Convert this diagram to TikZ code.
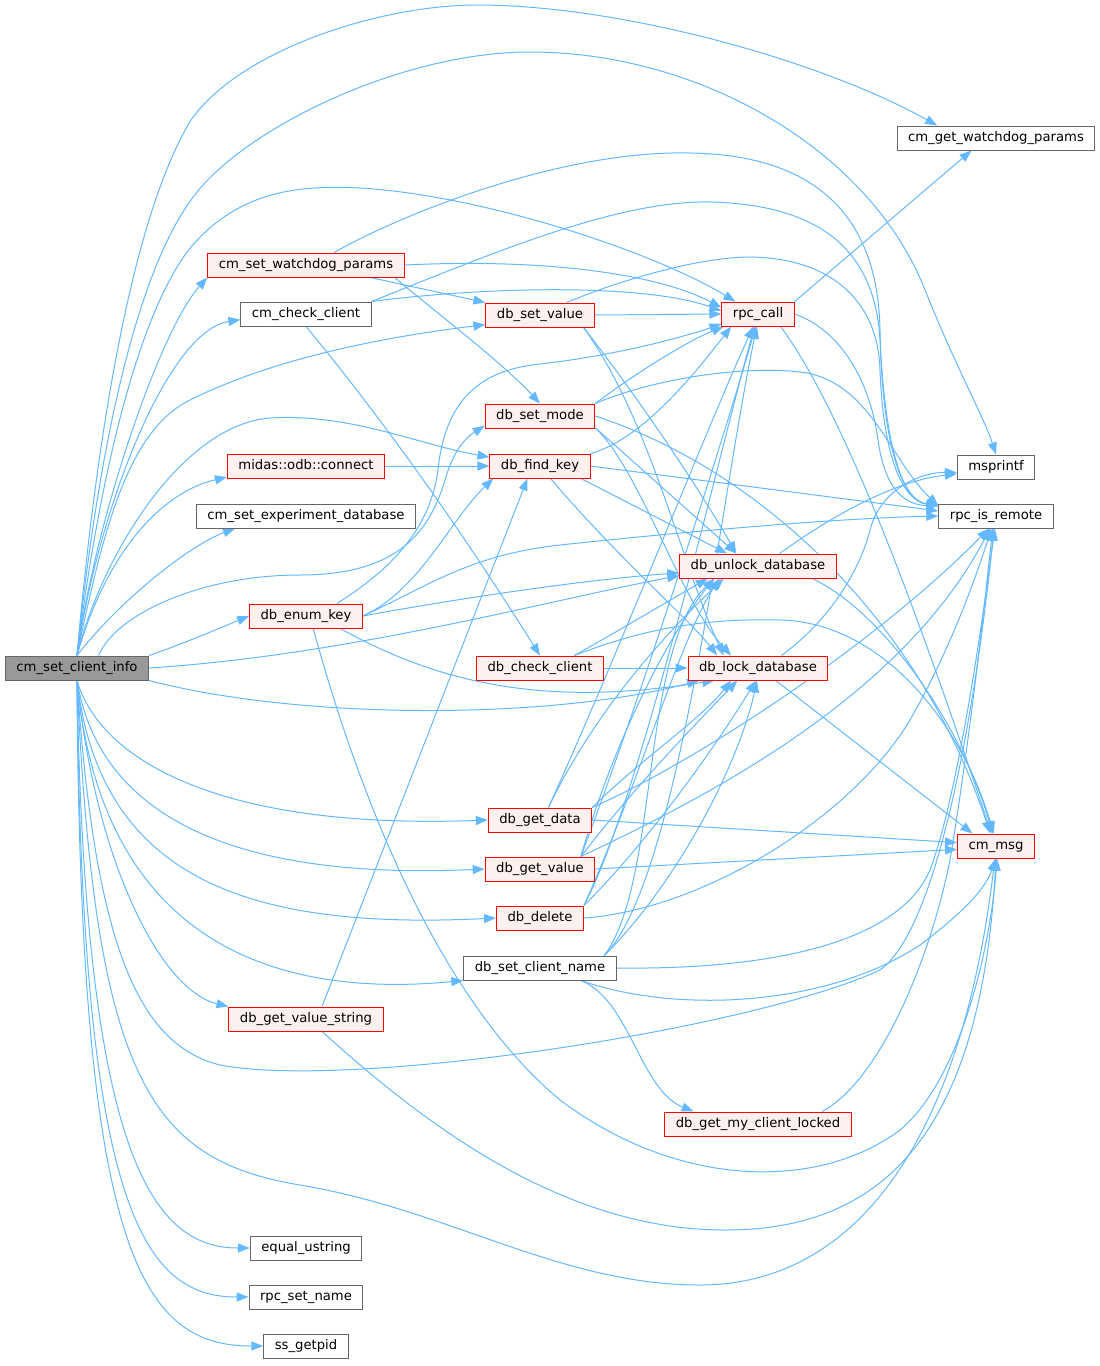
\documentclass[tikz,border=0pt]{standalone}
\usepackage{fontspec}
\setmainfont{DejaVu Sans}
\usetikzlibrary{arrows.meta, backgrounds}
\definecolor{callblue}{RGB}{99,184,255}
\definecolor{fnred}{RGB}{255,0,0}
\definecolor{fnfill}{RGB}{255,240,240}
\definecolor{fngray}{RGB}{102,102,102}
\definecolor{rootfill}{RGB}{153,153,153}
\tikzset{
  fnbox/.style={draw=fnred, fill=fnfill, line width=1pt, inner xsep=11pt, inner ysep=0pt,
    minimum height=24pt, text height=10pt, text depth=3.2pt, font=\fontsize{13.2}{15}\selectfont},
  leafbox/.style={fnbox, draw=fngray, fill=white},
  rootbox/.style={fnbox, draw=fngray, fill=rootfill},
  call/.style={draw=callblue, line width=1pt, -{Triangle[length=12pt,width=9pt]}}
}

\begin{document}
\begin{tikzpicture}[x=1pt, y=-1pt]
    \useasboundingbox (0,0) rectangle (1100,1366);

    % Functions
    \node[rootbox] (root) at (77,668) {cm\_set\_client\_info};
    \node[leafbox] (getwd) at (996,138) {cm\_get\_watchdog\_params};
    \node[fnbox] (setwd) at (306,265) {cm\_set\_watchdog\_params};
    \node[leafbox] (checkcl) at (306,314) {cm\_check\_client};
    \node[fnbox] (setval) at (540,315) {db\_set\_value};
    \node[fnbox] (rpccall) at (758,314) {rpc\_call};
    \node[fnbox] (setmode) at (540,416) {db\_set\_mode};
    \node[fnbox] (connect) at (306,466) {midas::odb::connect};
    \node[fnbox] (findkey) at (540,466) {db\_find\_key};
    \node[leafbox] (msprintf) at (996,467) {msprintf};
    \node[leafbox] (setexp) at (306,516) {cm\_set\_experiment\_database};
    \node[leafbox] (isremote) at (996,516) {rpc\_is\_remote};
    \node[fnbox] (unlock) at (758,566) {db\_unlock\_database};
    \node[fnbox] (enumkey) at (306,616) {db\_enum\_key};
    \node[fnbox] (dbcheck) at (540,668) {db\_check\_client};
    \node[fnbox] (lock) at (758,668) {db\_lock\_database};
    \node[fnbox] (getdata) at (540,820) {db\_get\_data};
    \node[fnbox] (cmmsg) at (996,846) {cm\_msg};
    \node[fnbox] (getvalue) at (540,869) {db\_get\_value};
    \node[fnbox] (dbdelete) at (540,918) {db\_delete};
    \node[leafbox] (setname) at (540,968) {db\_set\_client\_name};
    \node[fnbox] (getvalstr) at (306,1019) {db\_get\_value\_string};
    \node[fnbox] (getmycl) at (758,1124) {db\_get\_my\_client\_locked};
    \node[leafbox] (equstr) at (306,1248) {equal\_ustring};
    \node[leafbox] (setrpcname) at (306,1297) {rpc\_set\_name};
    \node[leafbox] (getpid) at (306,1346) {ss\_getpid};

    \begin{scope}[on background layer]
    % Calls of cm_set_client_info
    \draw[call] (root.north) .. controls (95,450) and (130,220) .. (191,120) .. controls (240,50) and (380,5) .. (477,5) .. controls (620,5) and (820,60) .. (getwd.168);
    \draw[call] (root.north) .. controls (100,430) and (140,270) .. (191,200) .. controls (240,130) and (400,52) .. (530,52) .. controls (700,52) and (870,150) .. (925,290) .. controls (955,365) and (985,420) .. (msprintf.north);
    \draw[call] (root.north) .. controls (100,470) and (140,310) .. (191,247) .. controls (240,190) and (300,185) .. (360,188) .. controls (480,195) and (650,250) .. (rpccall.151);
    \draw[call] (root.north) .. controls (95,520) and (160,330) .. (setwd.south west);
    \draw[call] (root.north) .. controls (100,500) and (170,330) .. (checkcl.185);
    \draw[call] (root.north) .. controls (105,520) and (130,430) .. (190,400) .. controls (280,355) and (400,335) .. (setval.190);
    \draw[call] (root.north) .. controls (100,560) and (180,425) .. (270,418) .. controls (350,413) and (420,445) .. (findkey.170);
    \draw[call] (root.north) .. controls (110,540) and (170,490) .. (connect.188);
    \draw[call] (root.north) .. controls (120,600) and (190,545) .. (setexp.190);
    \draw[call] (root.30) .. controls (115,615) and (200,575) .. (300,575) .. controls (400,575) and (430,530) .. (445,480) .. controls (455,445) and (470,435) .. (setmode.190);
    \draw[call] (root.north east) .. controls (180,645) and (220,628) .. (enumkey.west);
    \draw[call] (root.east) .. controls (350,655) and (550,600) .. (unlock.187);
    \draw[call] (root.south east) .. controls (300,720) and (550,720) .. (lock.192);
    \draw[call] (root.south) .. controls (100,760) and (220,830) .. (getdata.west);
    \draw[call] (root.south) .. controls (100,820) and (240,880) .. (getvalue.west);
    \draw[call] (root.south) .. controls (100,880) and (250,930) .. (dbdelete.west);
    \draw[call] (root.south) .. controls (100,930) and (260,1000) .. (setname.south west);
    \draw[call] (root.south) .. controls (95,860) and (160,990) .. (getvalstr.north west);
    \draw[call] (root.south) .. controls (95,950) and (140,1045) .. (220,1065) .. controls (350,1090) and (750,1030) .. (880,970) .. controls (950,920) and (985,620) .. (isremote.-100);
    \draw[call] (root.south) .. controls (95,1080) and (150,1160) .. (300,1185) .. controls (450,1210) and (560,1285) .. (700,1285) .. controls (850,1285) and (960,1150) .. (cmmsg.-95);
    \draw[call] (root.south) .. controls (85,1150) and (150,1248) .. (equstr.west);
    \draw[call] (root.south) .. controls (82,1200) and (140,1297) .. (setrpcname.west);
    \draw[call] (root.south) .. controls (80,1250) and (140,1346) .. (getpid.west);

    % cm_set_watchdog_params
    \draw[call] (setwd.east) .. controls (550,258) and (660,275) .. (rpccall.170);
    \draw[call] (setwd.-11) -- (setval.north west);
    \draw[call] (setwd.-8) .. controls (420,300) and (500,360) .. (setmode.north);
    \draw[call] (setwd.24) .. controls (400,215) and (560,150) .. (690,153) .. controls (820,155) and (878,220) .. (880,330) .. controls (882,440) and (900,500) .. (isremote.170);

    % cm_check_client
    \draw[call] (checkcl.north east) .. controls (500,285) and (650,285) .. (rpccall.175);
    \draw[call] (checkcl.north east) .. controls (500,250) and (620,200) .. (711,202) .. controls (820,205) and (875,250) .. (880,340) .. controls (885,440) and (900,500) .. (isremote.170);
    \draw[call] (checkcl.south) .. controls (400,440) and (480,560) .. (dbcheck.north);

    % db_set_value
    \draw[call] (setval.east) -- (rpccall.west);
    \draw[call] (setval.25) .. controls (620,280) and (700,257) .. (750,257) .. controls (830,258) and (878,300) .. (880,370) .. controls (883,450) and (900,500) .. (isremote.170);
    \draw[call] (setval.-16) .. controls (640,400) and (700,490) .. (unlock.150);
    \draw[call] (setval.-16) .. controls (650,420) and (680,560) .. (lock.160);

    % rpc_call
    \draw[call] (rpccall.north east) -- (getwd.207);
    \draw[call] (rpccall.east) .. controls (840,330) and (870,380) .. (878,440) .. controls (885,490) and (905,505) .. (isremote.170);
    \draw[call] (rpccall.-29) .. controls (850,420) and (930,650) .. (cmmsg.110);

    % db_set_mode
    \draw[call] (setmode.north east) .. controls (640,370) and (690,340) .. (rpccall.200);
    \draw[call] (setmode.north east) .. controls (650,380) and (740,365) .. (800,372) .. controls (870,380) and (890,460) .. (isremote.170);
    \draw[call] (setmode.-12) -- (unlock.150);
    \draw[call] (setmode.-12) .. controls (640,470) and (680,600) .. (lock.155);
    \draw[call] (setmode.east) .. controls (760,470) and (920,620) .. (cmmsg.115);

    % midas::odb::connect
    \draw[call] (connect.east) -- (findkey.west);

    % db_find_key
    \draw[call] (findkey.north east) .. controls (640,440) and (690,380) .. (rpccall.205);
    \draw[call] (findkey.east) -- (isremote.175);
    \draw[call] (findkey.-17) -- (unlock.158);
    \draw[call] (findkey.-50) .. controls (620,560) and (690,620) .. (lock.163);

    % db_enum_key
    \draw[call] (enumkey.22) .. controls (390,570) and (430,530) .. (438,470) .. controls (445,400) and (480,370) .. (540,364) .. controls (620,355) and (690,335) .. (rpccall.195);
    \draw[call] (enumkey.east) .. controls (420,590) and (450,520) .. (findkey.195);
    \draw[call] (enumkey.east) .. controls (430,585) and (470,555) .. (560,545) .. controls (720,528) and (850,518) .. (isremote.west);
    \draw[call] (enumkey.east) .. controls (450,600) and (580,580) .. (unlock.185);
    \draw[call] (enumkey.-20) .. controls (450,690) and (560,705) .. (lock.196);
    \draw[call] (enumkey.-60) .. controls (360,800) and (440,1000) .. (560,1100) .. controls (680,1190) and (820,1190) .. (900,1130) .. controls (960,1080) and (990,950) .. (cmmsg.-85);

    % db_unlock_database
    \draw[call] (unlock.30) .. controls (840,510) and (900,480) .. (msprintf.190);
    \draw[call] (unlock.-13) .. controls (880,610) and (960,720) .. (cmmsg.105);

    % db_check_client
    \draw[call] (dbcheck.20) .. controls (620,630) and (670,600) .. (unlock.194);
    \draw[call] (dbcheck.20) .. controls (640,630) and (700,618) .. (780,620) .. controls (880,622) and (960,720) .. (cmmsg.100);
    \draw[call] (dbcheck.east) -- (lock.west);

    % db_lock_database
    \draw[call] (lock.28) .. controls (830,620) and (860,570) .. (870,530) .. controls (880,490) and (920,472) .. (msprintf.188);
    \draw[call] (lock.-35) -- (cmmsg.152);

    % db_get_data
    \draw[call] (getdata.56) .. controls (620,650) and (710,420) .. (rpccall.-110);
    \draw[call] (getdata.56) .. controls (600,700) and (680,620) .. (unlock.200);
    \draw[call] (getdata.north east) .. controls (640,760) and (700,720) .. (lock.205);
    \draw[call] (getdata.north east) .. controls (700,760) and (880,640) .. (isremote.-120);
    \draw[call] (getdata.east) -- (cmmsg.175);

    % db_get_value
    \draw[call] (getvalue.17) .. controls (640,700) and (720,450) .. (rpccall.-100);
    \draw[call] (getvalue.17) .. controls (620,720) and (680,620) .. (unlock.196);
    \draw[call] (getvalue.17) .. controls (640,780) and (700,720) .. (lock.211);
    \draw[call] (getvalue.17) .. controls (700,800) and (900,700) .. (isremote.-115);
    \draw[call] (getvalue.east) -- (cmmsg.185);

    % db_delete
    \draw[call] (dbdelete.north east) .. controls (640,800) and (720,450) .. (rpccall.-105);
    \draw[call] (dbdelete.north east) .. controls (640,780) and (680,640) .. (unlock.198);
    \draw[call] (dbdelete.north east) .. controls (650,840) and (720,740) .. (lock.-100);
    \draw[call] (dbdelete.east) .. controls (700,910) and (850,820) .. (910,720) .. controls (950,650) and (975,580) .. (isremote.-110);

    % db_set_client_name
    \draw[call] (setname.11) .. controls (680,880) and (720,500) .. (rpccall.-95);
    \draw[call] (setname.11) .. controls (660,880) and (640,650) .. (unlock.196);
    \draw[call] (setname.11) .. controls (680,880) and (740,760) .. (lock.-95);
    \draw[call] (setname.east) .. controls (780,970) and (900,940) .. (930,870) .. controls (960,790) and (985,600) .. (isremote.-95);
    \draw[call] (setname.-17) .. controls (680,1015) and (830,1005) .. (920,945) .. controls (960,915) and (985,890) .. (cmmsg.south);
    \draw[call] (setname.-17) .. controls (630,1000) and (640,1090) .. (getmycl.169);

    % db_get_value_string
    \draw[call] (getvalstr.38) -- (findkey.-135);
    \draw[call] (getvalstr.-38) .. controls (420,1120) and (560,1230) .. (725,1230) .. controls (870,1230) and (980,1150) .. (cmmsg.-90);

    % db_get_my_client_locked
    \draw[call] (getmycl.11) .. controls (880,1080) and (930,960) .. (950,860) .. controls (970,740) and (985,600) .. (isremote.-105);
    \end{scope}
\end{tikzpicture}
\end{document}
